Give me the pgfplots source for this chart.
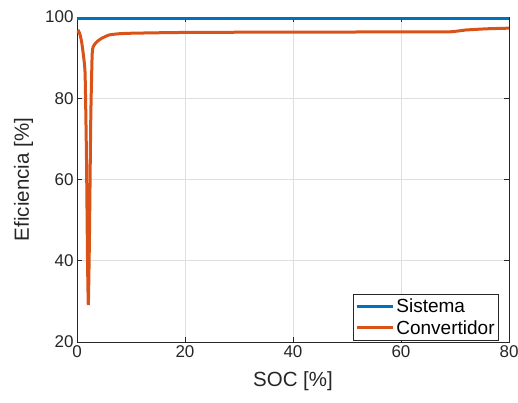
\documentclass[border=0pt]{standalone}
\usepackage{pgfplots}
\pgfplotsset{compat=1.18}
\usepackage{fontspec}
\setmainfont{Liberation Sans}
\definecolor{mblue}{HTML}{0072BD}
\definecolor{morange}{HTML}{D95319}
\definecolor{mgrid}{HTML}{DFDFDF}
\definecolor{maxis}{HTML}{262626}
\begin{document}
\begin{tikzpicture}[x=1pt,y=1pt]
\path[use as bounding box] (-77,-60) rectangle (441,342);
\begin{axis}[
  at={(0,0)}, anchor=south west,
  scale only axis, width=432pt, height=325pt,
  xmin=0, xmax=80, ymin=20, ymax=100,
  xtick={0,20,40,60,80}, ytick={20,40,60,80,100},
  grid=major, major grid style={mgrid, line width=0.6pt},
  axis line style={maxis, line width=0.8pt},
  tick style={maxis, line width=0.8pt},
  tick align=inside, major tick length=5pt,
  /pgf/number format/assume math mode=true,
  ticklabel style={font=\fontsize{17}{20}\selectfont, text=maxis},
  label style={font=\fontsize{20.5}{24}\selectfont, text=maxis},
  xlabel={SOC [\%]}, ylabel={Eficiencia [\%]},
  xlabel style={yshift=-7pt},
  ylabel style={yshift=5pt},
  legend style={at={(1,0)}, anchor=south east, xshift=-10pt, yshift=1pt,
    font=\fontsize{19}{22}\selectfont, draw=maxis, line width=0.8pt,
    inner xsep=2pt, inner ysep=3pt, row sep=2pt},
  legend cell align=left,
  legend image code/.code={\draw[#1, line width=3pt] (0pt,0pt) -- (36pt,0pt);},
]
\addplot[mblue, line width=3pt] coordinates {(0,99.55) (80,99.55)};
\addlegendentry{Sistema}
\addplot[morange, line width=3pt, smooth, tension=0.3] coordinates {
(0,96.1) (0.3,96.5) (0.6,95.5) (0.9,93.5) (1.2,90.5) (1.5,86) (1.75,66) (1.95,40) (2.1,29.1) (2.3,45) (2.55,75) (2.8,90.5) (3.0,92.7) (3.6,93.8) (4.5,94.7) (6,95.6) (8,95.9) (10,96.0) (14,96.1) (20,96.2) (30,96.25) (40,96.3) (50,96.3) (60,96.35) (69,96.35) (72,96.8) (76,97.1) (80,97.25)};
\addlegendentry{Convertidor}
\end{axis}
\end{tikzpicture}
\end{document}
